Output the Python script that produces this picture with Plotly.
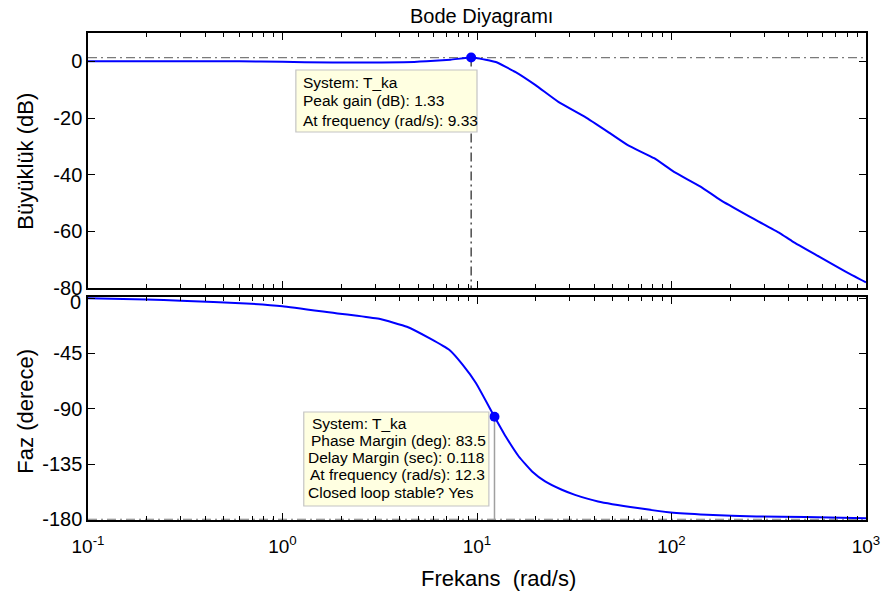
import plotly.graph_objects as go

# ---------------- data ----------------
mag_freq = [0.1, 0.3, 0.6, 1.0, 1.3, 2.5, 4.2, 5.5, 7.3, 9.33, 9.9, 12.5, 15.8,
            20.0, 26.2, 35.9, 47.1, 59.6, 81.4, 103, 141, 178, 243, 360, 420, 574, 785, 1000]
mag_db = [0.0, 0.0, 0.0, -0.15, -0.35, -0.4, -0.35, 0.0, 0.6, 1.33, 1.2, -0.25, -3.8,
          -8.4, -14.3, -19.6, -24.9, -29.6, -34.2, -39.0, -44.2, -48.9, -54.2, -60.6, -63.6, -68.9, -74.2, -78.0]

phase_freq = [0.1, 0.2, 0.3, 0.65, 1.0, 1.92, 2.42, 3.18, 4.36, 5.72, 7.22, 8.45, 9.89, 12.3,
              14.05, 16.4, 19.2, 22.4, 27.3, 31.9, 41.9, 67, 99, 152, 273, 491, 1000]
phase_deg = [0.0, -1.0, -2.0, -4.3, -6.5, -12.4, -14.3, -17.0, -23.2, -32.7, -42.2, -54.3, -69.2, -96.5,
             -112.6, -128.9, -141.1, -149.2, -156.0, -160.1, -165.5, -170.9, -174.5, -176.3, -177.7, -178.2, -179.2]

peak_freq, peak_gain = 9.33, 1.33
pm_freq, pm_phase = 12.3, -96.5

x_range = [0.1, 1000]
mag_ticks = [-80, -60, -40, -20, 0]
mag_tick_text = ["-80", "-60", "-40", "-20", "0"]
phase_ticks = [-180, -135, -90, -45, 0]
phase_tick_text = ["-180", "-135", "-90", "-45", ""]   # "0" drawn separately, nudged down as in the reference
x_major = [0.1, 1, 10, 100, 1000]
x_major_text = ["10<sup>-1</sup>", "10<sup>0</sup>", "10<sup>1</sup>", "10<sup>2</sup>", "10<sup>3</sup>"]
x_minor = [m * d for d in [0.1, 1, 10, 100] for m in range(2, 10)]

title_text = "Bode Diyagramı"
mag_title = "Büyüklük (dB)"
phase_title = "Faz (derece)"
x_title = "Frekans  (rad/s)"
tip1_lines = ["System: T_ka", "Peak gain (dB): 1.33", "At frequency (rad/s): 9.33"]
tip2_lines = ["System: T_ka", "Phase Margin (deg): 83.5", "Delay Margin (sec): 0.118",
              "At frequency (rad/s): 12.3", "Closed loop stable? Yes"]

# ---------------- layout geometry (pixels) ----------------
W, H = 892, 594
L, R, T, B = 88, 874, 33, 520


def px(xp):
    return (xp - L) / (R - L)


def py(yp):
    return (B - yp) / (B - T)


FONT = "Liberation Sans, Arial, sans-serif"
BLUE = "#0000ff"
DASHDOT = "9px,4px,2px,4px"

fig = go.Figure()

# reference lines
fig.add_trace(go.Scatter(x=x_range, y=[peak_gain, peak_gain], mode="lines",
                         line=dict(color="#7a7a7a", width=1.2, dash=DASHDOT),
                         xaxis="x", yaxis="y", hoverinfo="skip"))
fig.add_trace(go.Scatter(x=[peak_freq, peak_freq], y=[peak_gain, -80], mode="lines",
                         line=dict(color="#202020", width=1.2, dash=DASHDOT),
                         xaxis="x", yaxis="y", hoverinfo="skip"))
fig.add_trace(go.Scatter(x=x_range, y=[-180, -180], mode="lines",
                         line=dict(color="#7a7a7a", width=1.2, dash=DASHDOT),
                         xaxis="x2", yaxis="y2", hoverinfo="skip"))
fig.add_trace(go.Scatter(x=[pm_freq, pm_freq], y=[pm_phase, -180], mode="lines",
                         line=dict(color="#a0a0a0", width=1.5),
                         xaxis="x2", yaxis="y2", hoverinfo="skip"))

# curves
fig.add_trace(go.Scatter(x=mag_freq, y=mag_db, mode="lines",
                         line=dict(color=BLUE, width=2, shape="spline", smoothing=0.4),
                         xaxis="x", yaxis="y"))
fig.add_trace(go.Scatter(x=phase_freq, y=phase_deg, mode="lines",
                         line=dict(color=BLUE, width=2, shape="spline", smoothing=0.4),
                         xaxis="x2", yaxis="y2"))

# markers
fig.add_trace(go.Scatter(x=[peak_freq], y=[peak_gain], mode="markers",
                         marker=dict(color=BLUE, size=10), xaxis="x", yaxis="y"))
fig.add_trace(go.Scatter(x=[pm_freq], y=[pm_phase], mode="markers",
                         marker=dict(color=BLUE, size=10), xaxis="x2", yaxis="y2"))

shapes = []
annotations = []

# data tip boxes
for (x0, y0, x1, y1) in [(298, 70, 481, 132), (306, 412, 493, 506)]:
    shapes.append(dict(type="rect", xref="paper", yref="paper",
                       x0=px(x0), x1=px(x1), y0=py(y1), y1=py(y0),
                       fillcolor="#ffffe1", line=dict(color="#c4c4c4", width=1.2),
                       layer="above"))

tip1_pos = [(303, 82), (303, 101), (303, 120.5)]
for txt, (xx, yy) in zip(tip1_lines, tip1_pos):
    annotations.append(dict(text=txt, x=px(xx), y=py(yy), xref="paper", yref="paper",
                            xanchor="left", yanchor="middle", showarrow=False,
                            font=dict(family=FONT, size=15.5, color="black")))

tip2_pos = [(312, 423.5), (311, 440), (308.5, 457.5), (310, 474.5), (308.5, 492)]
for txt, (xx, yy) in zip(tip2_lines, tip2_pos):
    annotations.append(dict(text=txt, x=px(xx), y=py(yy), xref="paper", yref="paper",
                            xanchor="left", yanchor="middle", showarrow=False,
                            font=dict(family=FONT, size=15.5, color="black")))

# phase "0" tick label (nudged below the top frame, as in the reference)
annotations.append(dict(text="0", x=px(83), y=py(302), xref="paper", yref="paper",
                        xanchor="right", yanchor="middle", showarrow=False,
                        font=dict(family=FONT, size=20, color="black")))

# titles
annotations.append(dict(text=title_text, x=px(486), y=py(16), xref="paper", yref="paper",
                        xanchor="center", yanchor="middle", showarrow=False,
                        font=dict(family=FONT, size=20, color="black")))
annotations.append(dict(text=x_title, x=px(503), y=py(578), xref="paper", yref="paper",
                        xanchor="center", yanchor="middle", showarrow=False,
                        font=dict(family=FONT, size=22, color="black")))
annotations.append(dict(text=mag_title, x=px(24), y=py(161), xref="paper", yref="paper",
                        xanchor="center", yanchor="middle", showarrow=False, textangle=-90,
                        font=dict(family=FONT, size=22, color="black")))
annotations.append(dict(text=phase_title, x=px(24), y=py(411), xref="paper", yref="paper",
                        xanchor="center", yanchor="middle", showarrow=False, textangle=-90,
                        font=dict(family=FONT, size=22, color="black")))

top_dom = [py(288), 1.0]
bot_dom = [0.0, py(297)]

common_x = dict(type="log", range=[-1, 3], showgrid=False, zeroline=False,
                showline=True, linecolor="black", linewidth=1.5, mirror="ticks",
                ticks="inside", ticklen=7, tickwidth=1, tickcolor="black",
                tickmode="array", tickvals=x_major,
                minor=dict(tickmode="array", tickvals=x_minor, ticks="inside",
                           ticklen=4, tickwidth=1, tickcolor="black", showgrid=False))

common_y = dict(showgrid=False, zeroline=False, showline=True, linecolor="black",
                linewidth=1.5, mirror="ticks", ticks="inside", ticklen=7,
                tickwidth=1, tickcolor="black",
                tickfont=dict(family=FONT, size=20, color="black"))

fig.update_layout(
    width=W, height=H,
    margin=dict(l=L, r=W - R, t=T, b=H - B),
    paper_bgcolor="white", plot_bgcolor="white",
    showlegend=False,
    xaxis=dict(common_x, domain=[0, 1], anchor="y", showticklabels=False),
    xaxis2=dict(common_x, domain=[0, 1], anchor="y2", matches="x",
                ticktext=x_major_text, ticklabelstandoff=8,
                tickfont=dict(family=FONT, size=19, color="black")),
    yaxis=dict(common_y, domain=top_dom, anchor="x", range=[-80, 10],
               tickmode="array", tickvals=mag_ticks, ticktext=mag_tick_text),
    yaxis2=dict(common_y, domain=bot_dom, anchor="x2", range=[-180.6, 1],
                tickmode="array", tickvals=phase_ticks, ticktext=phase_tick_text),
    shapes=shapes,
    annotations=annotations,
)

fig.write_html("out.html")
